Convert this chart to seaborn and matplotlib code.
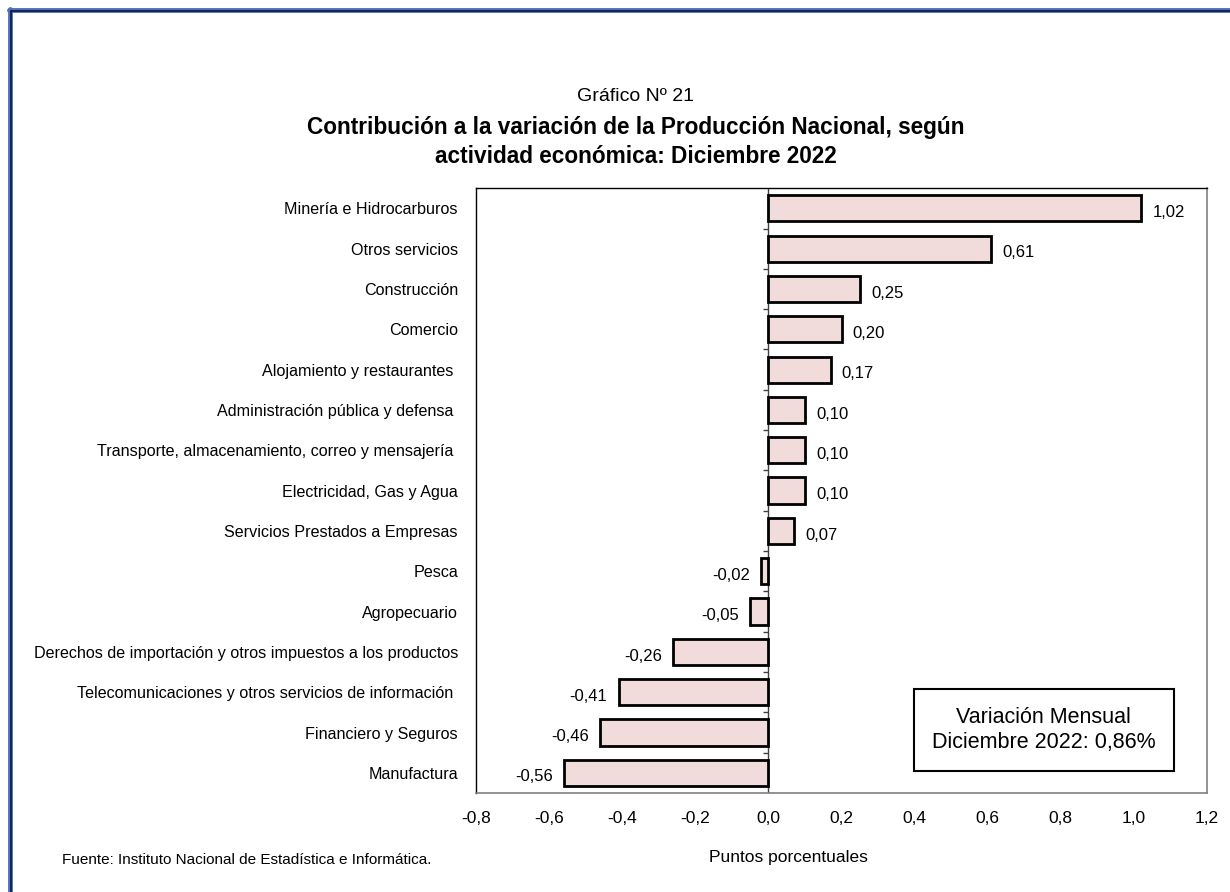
import numpy as np
import pandas as pd
import matplotlib
matplotlib.use("Agg")
import matplotlib.pyplot as plt
from matplotlib.lines import Line2D
import seaborn as sns

# data
actividades = [
    "Minería e Hidrocarburos",
    "Otros servicios",
    "Construcción",
    "Comercio",
    "Alojamiento y restaurantes ",
    "Administración pública y defensa ",
    "Transporte, almacenamiento, correo y mensajería ",
    "Electricidad, Gas y Agua",
    "Servicios Prestados a Empresas",
    "Pesca",
    "Agropecuario",
    "Derechos de importación y otros impuestos a los productos",
    "Telecomunicaciones y otros servicios de información ",
    "Financiero y Seguros",
    "Manufactura",
]
contribucion = [1.02, 0.61, 0.25, 0.20, 0.17, 0.10, 0.10, 0.10, 0.07,
                -0.02, -0.05, -0.26, -0.41, -0.46, -0.56]
x_ticks = [-0.8, -0.6, -0.4, -0.2, 0.0, 0.2, 0.4, 0.6, 0.8, 1.0, 1.2]

df = pd.DataFrame({"actividad": actividades, "valor": contribucion})

sns.set_style("white")
plt.rcParams["font.family"] = ["Liberation Sans", "DejaVu Sans"]
plt.rcParams["text.color"] = "black"
plt.rcParams["xtick.labelcolor"] = "black"
plt.rcParams["ytick.labelcolor"] = "black"

fig = plt.figure(figsize=(12.3, 8.92), dpi=100)
ax = fig.add_axes([0.387, 0.111, 0.5943, 0.678])

sns.barplot(data=df, x="valor", y="actividad", orient="h", color="#F2DCDB",
            saturation=1, edgecolor="black", linewidth=2, width=0.65, ax=ax)

ax.set_xlim(-0.8, 1.2)
ax.set_ylim(14.5, -0.5)
ax.set_xticks(x_ticks)
ax.set_xticklabels([f"{t:.1f}".replace(".", ",") for t in x_ticks], fontsize=12.5)
ax.tick_params(axis="x", length=5, width=1, color="#808080", pad=8)
ax.tick_params(axis="y", length=0, pad=13, labelsize=11.6)
ax.set_xlabel("")
ax.set_ylabel("")

for s in ["top", "left"]:
    ax.spines[s].set_color("black")
    ax.spines[s].set_linewidth(1)
for s in ["right", "bottom"]:
    ax.spines[s].set_color("#808080")
    ax.spines[s].set_linewidth(1.2)

# zero line with small category ticks
ax.axvline(0, color="#404040", lw=1, zorder=0)
ax.hlines(np.arange(0.5, 14.5, 1), -0.014, 0, color="#404040", lw=1, zorder=0)

# value labels
for i, v in enumerate(contribucion):
    txt = f"{v:.2f}".replace(".", ",")
    if v >= 0:
        ax.annotate(txt, (v, i), xytext=(8, -3), textcoords="offset points",
                    ha="left", va="center", fontsize=12)
    else:
        ax.annotate(txt, (v, i), xytext=(-8, -3), textcoords="offset points",
                    ha="right", va="center", fontsize=12)

# summary box
ax.text(0.753, 12.94, "Variación Mensual\nDiciembre 2022: 0,86%", ha="center", va="center",
        fontsize=15.5, linespacing=1.2,
        bbox=dict(boxstyle="square,pad=0.85", facecolor="white", edgecolor="black", linewidth=1.5))

# titles and notes
fig.text(0.517, 0.892, "Gráfico Nº 21", ha="center", va="center", fontsize=14)
fig.text(0.517, 0.841, "Contribución a la variación de la Producción Nacional, según\n"
         "actividad económica: Diciembre 2022", ha="center", va="center",
         fontsize=16.3, fontweight="bold", linespacing=1.3)
fig.text(0.641, 0.039, "Puntos porcentuales", ha="center", va="center", fontsize=12.5)
fig.text(0.05, 0.036, "Fuente: Instituto Nacional de Estadística e Informática.",
         ha="left", va="center", fontsize=11)

# page border (top and left only, cropped)
fig.add_artist(Line2D([9 / 1230, 1.0], [1 - 10 / 892, 1 - 10 / 892], color="#4F6FB8", lw=3.5))
fig.add_artist(Line2D([10 / 1230, 10 / 1230], [0.0, 1 - 9 / 892], color="#4F6FB8", lw=3.5))
fig.add_artist(Line2D([10.5 / 1230, 1.0], [1 - 11 / 892, 1 - 11 / 892], color="#0A1A40", lw=1.2))
fig.add_artist(Line2D([11 / 1230, 11 / 1230], [0.0, 1 - 11 / 892], color="#0A1A40", lw=1.2))

fig.savefig("out.png", dpi=100, facecolor="white")
